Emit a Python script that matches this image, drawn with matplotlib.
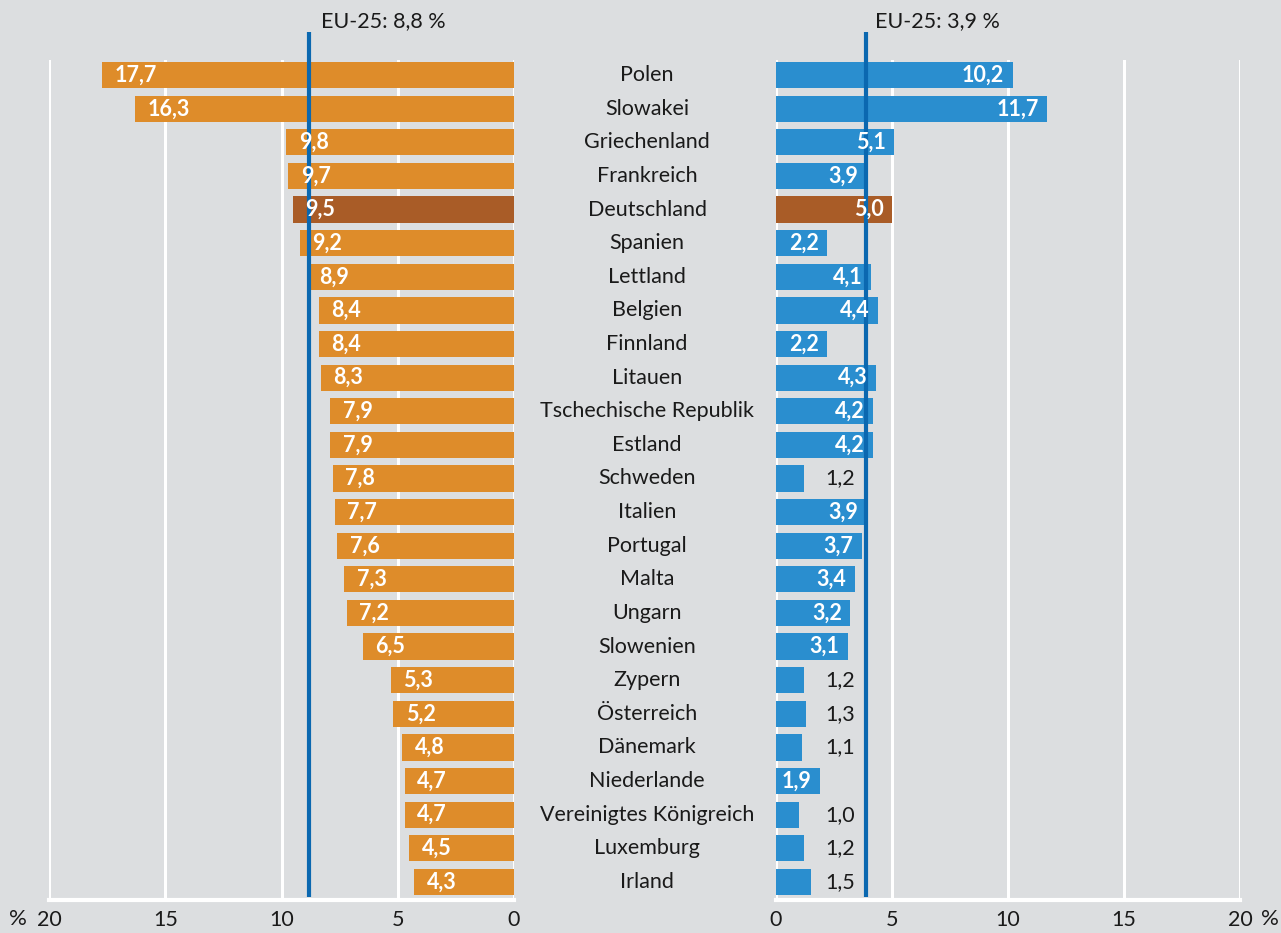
import numpy as np
import matplotlib.pyplot as plt
from matplotlib.transforms import blended_transform_factory

countries = ["Polen", "Slowakei", "Griechenland", "Frankreich", "Deutschland", "Spanien",
             "Lettland", "Belgien", "Finnland", "Litauen", "Tschechische Republik", "Estland",
             "Schweden", "Italien", "Portugal", "Malta", "Ungarn", "Slowenien", "Zypern",
             "Österreich", "Dänemark", "Niederlande", "Vereinigtes Königreich", "Luxemburg", "Irland"]
left_vals = [17.7, 16.3, 9.8, 9.7, 9.5, 9.2, 8.9, 8.4, 8.4, 8.3, 7.9, 7.9, 7.8, 7.7, 7.6,
             7.3, 7.2, 6.5, 5.3, 5.2, 4.8, 4.7, 4.7, 4.5, 4.3]
right_vals = [10.2, 11.7, 5.1, 3.9, 5.0, 2.2, 4.1, 4.4, 2.2, 4.3, 4.2, 4.2, 1.2, 3.9, 3.7,
              3.4, 3.2, 3.1, 1.2, 1.3, 1.1, 1.9, 1.0, 1.2, 1.5]
eu_left = 8.8
eu_right = 3.9
ticks = [0, 5, 10, 15, 20]
highlight = "Deutschland"

bg = "#dcdee0"
orange = "#de8c2a"
blue = "#2a8ecf"
brown = "#a95c27"
eu_col = "#0b68b0"
txt = "#1a1a1a"

plt.rcParams['font.family'] = ['Lato', 'DejaVu Sans']
plt.rcParams['font.size'] = 15

fig = plt.figure(figsize=(12.81, 9.33), dpi=100, facecolor=bg)
axl = fig.add_axes([49/1281, 33/933, 465/1281, 840/933], facecolor=bg)
axr = fig.add_axes([776/1281, 33/933, 464/1281, 840/933], facecolor=bg)

y = np.arange(len(countries))
lcols = [brown if c == highlight else orange for c in countries]
rcols = [brown if c == highlight else blue for c in countries]

for ax, vals, cols in [(axl, left_vals, lcols), (axr, right_vals, rcols)]:
    ax.barh(y, vals, height=0.78, color=cols, zorder=3)
    ax.set_xlim(0, 20)
    ax.set_ylim(24.54, -0.45)
    ax.set_xticks(ticks)
    ax.set_xticklabels([str(t) for t in ticks])
    ax.set_yticks([])
    ax.grid(axis='x', color='white', lw=2.2, zorder=1)
    ax.tick_params(axis='x', length=0, pad=7, labelsize=15.5, labelcolor=txt)
    for s in ['top', 'right', 'left']:
        ax.spines[s].set_visible(False)
    ax.spines['bottom'].set_color('white')
    ax.spines['bottom'].set_linewidth(3)
    ax.spines['bottom'].set_zorder(2)

axl.invert_xaxis()

# percent signs beside the outer tick labels
fig.text(27/1281, 0.0145, "%", ha='right', va='center', fontsize=16, color=txt)
fig.text(1261/1281, 0.0145, "%", ha='left', va='center', fontsize=16, color=txt)

# EU average lines
for ax, v, dx in [(axl, eu_left, -0.5), (axr, eu_right, 0.35)]:
    ax.plot([v, v], [24.45, -1.28], color=eu_col, lw=3, zorder=4, clip_on=False,
            solid_capstyle='butt')
    ax.text(v + dx, -1.6, "EU-25: %s %%" % str(v).replace('.', ','),
            ha='left', va='center', fontsize=15.5, color=txt, clip_on=False)

# value labels
for i, v in enumerate(left_vals):
    axl.annotate(str(v).replace('.', ','), (v, i), xytext=(9, 0), textcoords='offset points',
                 ha='left', va='center', color='white', fontweight='bold', fontsize=15.5, zorder=5)
for i, v in enumerate(right_vals):
    s = str(v).replace('.', ',')
    if v < 1.6:
        axr.text(3.4, i, s, ha='right', va='center', color=txt, fontsize=15.5, zorder=5)
    else:
        axr.annotate(s, (v, i), xytext=(-6, 0), textcoords='offset points',
                     ha='right', va='center', color='white', fontweight='bold', fontsize=15.5, zorder=5)

# country names in the middle
tr = blended_transform_factory(fig.transFigure, axr.transData)
for i, c in enumerate(countries):
    axr.text(647/1281, i, c, transform=tr, ha='center', va='center', color=txt, fontsize=15.5,
             clip_on=False)

fig.savefig("out.png", dpi=100, facecolor=bg)
